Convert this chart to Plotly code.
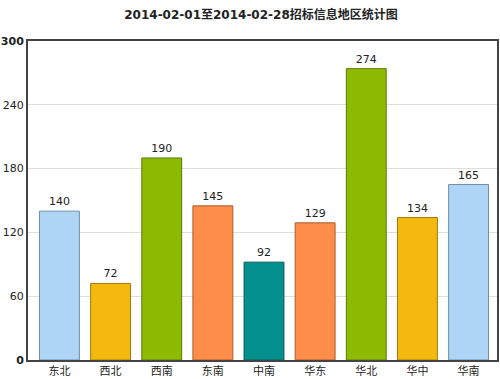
import plotly.graph_objects as go

categories = ["东北", "西北", "西南", "东南", "中南", "华东", "华北", "华中", "华南"]
values = [140, 72, 190, 145, 92, 129, 274, 134, 165]
bar_colors = ["#aed4f6", "#f4b90f", "#8dbb04", "#fd8d48", "#04908c",
              "#fd8d48", "#8dbb04", "#f4b90f", "#aed4f6"]
edge_colors = ["#6f8fa8", "#a07a08", "#5c7a02", "#a85c2e", "#02605c",
               "#a85c2e", "#5c7a02", "#a07a08", "#6f8fa8"]
y_ticks = [0, 60, 120, 180, 240, 300]
title = "2014-02-01至2014-02-28招标信息地区统计图"

fig = go.Figure(go.Bar(
    x=list(range(len(categories))),
    y=values,
    width=0.78,
    marker=dict(color=bar_colors, line=dict(color=edge_colors, width=1)),
    text=[str(v) for v in values],
    textposition="outside",
    textfont=dict(family="DejaVu Sans, Noto Sans CJK SC", size=11, color="#222"),
    cliponaxis=False,
))

fig.update_layout(
    width=500, height=379,
    margin=dict(l=28, r=3, t=41, b=19, autoexpand=False),
    paper_bgcolor="white", plot_bgcolor="white",
    showlegend=False,
    title=dict(text="<b>" + title + "</b>", x=0.522, xanchor="center", y=0.96, yanchor="middle",
               font=dict(family="DejaVu Sans, Noto Sans CJK SC", size=12, color="#222")),
    font=dict(family="DejaVu Sans, Noto Sans CJK SC", size=11, color="#222"),
)
fig.update_xaxes(
    range=[-0.615, 8.556], automargin=False,
    tickmode="array", tickvals=list(range(len(categories))), ticktext=categories,
    showgrid=False, showline=True, linecolor="#444", linewidth=2, mirror=True,
    ticks="", tickfont=dict(size=11, family="Noto Sans CJK SC"),
    zeroline=False,
)
fig.update_yaxes(
    range=[0, 300], tickmode="array", tickvals=y_ticks, automargin=False,
    ticktext=["<b>0</b>", "60", "120", "180", "240", "<b>300</b>"],
    showgrid=True, gridcolor="#dddddd", gridwidth=1,
    showline=True, linecolor="#444", linewidth=2, mirror=True,
    ticks="", zeroline=False, tickfont=dict(size=11),
)

fig.write_html("out.html", config={"displayModeBar": False},
               post_script="document.body.style.margin='0';document.body.style.overflow='hidden';")
